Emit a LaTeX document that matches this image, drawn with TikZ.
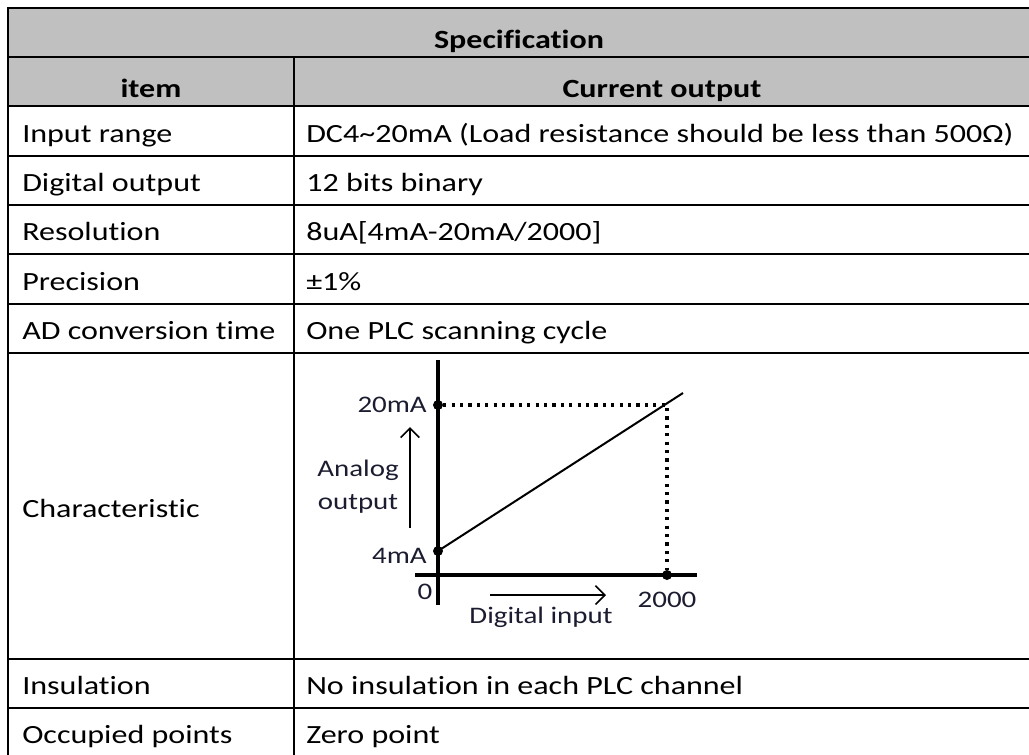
\documentclass[tikz,border=0pt]{standalone}
\usepackage{fontspec}
\setmainfont[FakeStretch=1.22,Ligatures=NoCommon]{Carlito}
\usetikzlibrary{arrows.meta}
\definecolor{headgray}{RGB}{192,192,192}
\definecolor{charttext}{RGB}{28,28,48}
\begin{document}
\begin{tikzpicture}[x=0.75pt,y=-0.75pt,
  rule/.style={line width=2pt,line cap=rect},
  cell/.style={anchor=base west,inner sep=0pt,font=\fontsize{19.7}{22}\selectfont},
  headcell/.style={anchor=base,inner sep=0pt,font=\fontsize{19.7}{22}\selectfont\bfseries},
  axis/.style={line width=3pt},
  dotline/.style={line width=2.6pt,dash pattern=on 2.4pt off 3.9pt},
  dot/.style={circle,fill=black,inner sep=0pt,minimum size=7.5pt},
  clabel/.style={inner sep=0pt,text=charttext,font=\fontsize{17.8}{20}\selectfont},
  thinarrow/.style={line width=1.2pt,-{Straight Barb[length=7pt,width=14pt,line width=1.2pt]}}]
\useasboundingbox (0,0) rectangle (1029,754);
\begin{scope}
\clip (0,0) rectangle (1029,754);
% header background
\fill[headgray] (8,8) rectangle (1031,106);
% grid
\draw[rule] (1031,8) -- (8,8) -- (8,760);
\foreach \y in {57,106,156,205,254,304,353,659,708}
  \draw[rule] (8,\y) -- (1031,\y);
\draw[rule] (294,57) -- (294,760);
\end{scope}
% header texts
\node[headcell] (hspec) at (519,48) {Specification};
\node[headcell] (hitem) at (151,97) {item};
\node[headcell] (hcur) at (662,97) {Current output};
% item column
\node[cell] (i1) at (22,142) {Input range};
\node[cell] (i2) at (22,191) {Digital output};
\node[cell] (i3) at (22,240) {Resolution};
\node[cell] (i4) at (22,290) {Precision};
\node[cell] (i5) at (22,339) {AD conversion time};
\node[cell] (i6) at (22,517) {Characteristic};
\node[cell] (i7) at (22,694) {Insulation};
\node[cell] (i8) at (22,743) {Occupied points};
% value column
\node[cell] (v1) at (306,142) {DC4\textasciitilde20mA (Load resistance should be less than 500Ω)};
\node[cell] (v2) at (306,191) {12 bits binary};
\node[cell] (v3) at (306,240) {8uA[4mA-20mA/2000]};
\node[cell] (v4) at (306,290) {±1\%};
\node[cell] (v5) at (306,339) {One PLC scanning cycle};
\node[cell] (v7) at (306,694) {No insulation in each PLC channel};
\node[cell] (v8) at (306,743) {Zero point};
% characteristic chart
\coordinate (ytop) at (438,360);
\coordinate (ybot) at (438,605);
\coordinate (xl) at (415,575);
\coordinate (xr) at (697,575);
\node[dot] (p4) at (438,551) {};
\node[dot] (p20) at (438,405) {};
\node[dot] (p2000) at (667,575) {};
\coordinate (corner) at (667,405);
\coordinate (lineend) at (683,393);
\draw[axis] (ytop) -- (ybot);
\draw[axis] (xl) -- (xr);
\draw[dotline] (p20.east) -- (corner) -- (p2000.north);
\draw[line width=1.5pt] (p4.center) -- (lineend);
\node[clabel,anchor=east] (l20) at (427,405) {20mA};
\node[clabel,anchor=east] (l4) at (427,556) {4mA};
\node[clabel] (l0) at (425,592) {0};
\node[clabel] (l2000) at (667,600) {2000};
\node[clabel] (lana) at (358,470) {Analog};
\node[clabel] (lout) at (358,504) {output};
\node[clabel] (ldig) at (541,617) {Digital input};
\coordinate (ua) at (410,528);
\coordinate (ub) at (410,427);
\coordinate (ra) at (490,595);
\coordinate (rb) at (606,595);
\draw[thinarrow] (ua) -- (ub);
\draw[thinarrow] (ra) -- (rb);
\end{tikzpicture}
\end{document}
